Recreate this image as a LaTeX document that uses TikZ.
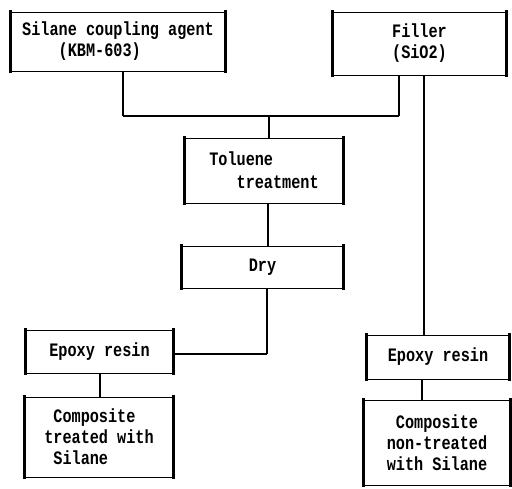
\documentclass[tikz,border=0pt]{standalone}
\usepackage{fontspec}
\newfontfamily\monofont[FakeStretch=0.8]{Liberation Mono}
\begin{document}
\begin{tikzpicture}[x=1pt,y=-1pt,
  box/.style={draw, line width=0.9pt, inner sep=0pt, font=\monofont\bfseries\fontsize{19}{21}\selectfont},
  vside/.style={line width=2.6pt, line cap=rect},
  vl/.style={line width=2.8pt},
  hl/.style={line width=1.1pt}]
\useasboundingbox (0,0) rectangle (512,489);
\node[box, minimum width=214pt, minimum height=59pt, align=left] (sil) at (118,41.5)
  {Silane coupling agent\\\hphantom{xxxx}(KBM-603)};
\node[box, minimum width=173pt, minimum height=63pt, align=center] (fil) at (419.5,43.5)
  {Filler\\(SiO2)};
\node[box, minimum width=158pt, minimum height=65pt, align=left, font=\monofont\bfseries\fontsize{19}{23}\selectfont] (tol) at (264,170.5)
  {Toluene\\\hphantom{xxx}treatment};
\node[box, minimum width=161pt, minimum height=42pt] (dry) at (262.5,267) {Dry};
\node[box, minimum width=147pt, minimum height=43pt] (ep1) at (99.5,351.5) {Epoxy resin};
\node[box, minimum width=142pt, minimum height=44pt] (ep2) at (438,357) {Epoxy resin};
\node[box, minimum width=148pt, minimum height=80pt, align=left] (co1) at (99,437)
  {\hphantom{x}Composite\\treated with\\\hphantom{x}Silane};
\node[box, minimum width=146pt, minimum height=85pt, align=center] (co2) at (437,442.5)
  {Composite\\non-treated\\with Silane};
\foreach \n in {sil,fil,tol,dry,ep1,ep2,co1,co2}
  \draw[vside] (\n.north west) -- (\n.south west) (\n.north east) -- (\n.south east);
% connectors
\coordinate (a) at (123,116);
\coordinate (b) at (399,116);
\coordinate (c) at (269,116);
\coordinate (d) at (267,354);
\coordinate (e) at (268,0);
\coordinate (f) at (100,0);
\coordinate (g) at (424,0);
\coordinate (h) at (422,0);
\draw[vl] (a |- sil.south) -- (a);
\draw[vl] (b |- fil.south) -- (b);
\draw[hl] (a) -- (b);
\draw[vl] (c) -- (c |- tol.north);
\draw[vl] (e |- tol.south) -- (e |- dry.north);
\draw[vl] (d |- dry.south) -- (d);
\draw[hl] (d) -- (d -| ep1.east);
\draw[vl] (f |- ep1.south) -- (f |- co1.north);
\draw[vl] (g |- fil.south) -- (g |- ep2.north);
\draw[vl] (h |- ep2.south) -- (h |- co2.north);
\end{tikzpicture}
\end{document}
